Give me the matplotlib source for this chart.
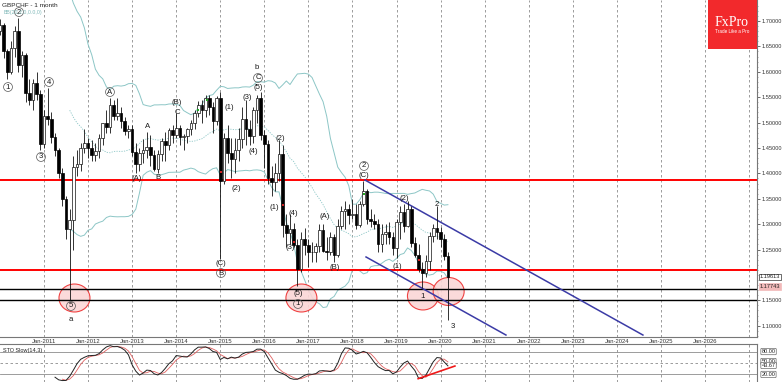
import numpy as np
import pandas as pd
import matplotlib.pyplot as plt
from matplotlib.patches import Ellipse, Rectangle

plt.rcParams['font.family'] = ['Liberation Sans Narrow', 'Liberation Sans', 'DejaVu Sans']

# GBPCHF monthly bars, Jan-2010 .. Mar-2020 (bar index 0 = Jan-2010)
opens = [1.680, 1.692, 1.640, 1.600, 1.647, 1.680, 1.613, 1.633, 1.559, 1.544, 1.577, 1.557,
         1.458, 1.512, 1.508, 1.472, 1.445, 1.401, 1.350, 1.291, 1.309, 1.412, 1.418, 1.450,
         1.459, 1.450, 1.437, 1.444, 1.470, 1.499, 1.491, 1.534, 1.512, 1.518, 1.503, 1.484,
         1.487, 1.443, 1.418, 1.441, 1.446, 1.452, 1.436, 1.408, 1.438, 1.464, 1.456, 1.485,
         1.475, 1.489, 1.472, 1.474, 1.487, 1.500, 1.518, 1.535, 1.525, 1.548, 1.531, 1.504,
         1.549, 1.385, 1.470, 1.441, 1.429, 1.445, 1.467, 1.508, 1.487, 1.474, 1.524, 1.548,
         1.475, 1.458, 1.390, 1.382, 1.401, 1.439, 1.299, 1.282, 1.291, 1.258, 1.211, 1.270,
         1.258, 1.245, 1.246, 1.256, 1.288, 1.248, 1.245, 1.275, 1.239, 1.297, 1.326, 1.329,
         1.318, 1.320, 1.299, 1.339, 1.365, 1.311, 1.307, 1.300, 1.260, 1.280, 1.285, 1.275,
         1.253, 1.305, 1.323, 1.297, 1.329, 1.263, 1.240, 1.211, 1.204, 1.227, 1.276, 1.293,
         1.284, 1.271, 1.238]
highs = [1.703, 1.697, 1.645, 1.660, 1.690, 1.706, 1.640, 1.637, 1.585, 1.585, 1.600, 1.565,
         1.525, 1.568, 1.520, 1.480, 1.450, 1.410, 1.355, 1.330, 1.435, 1.445, 1.460, 1.487,
         1.470, 1.465, 1.460, 1.478, 1.500, 1.525, 1.548, 1.545, 1.548, 1.530, 1.510, 1.495,
         1.495, 1.460, 1.450, 1.468, 1.482, 1.475, 1.445, 1.445, 1.470, 1.482, 1.490, 1.495,
         1.518, 1.495, 1.478, 1.490, 1.505, 1.525, 1.542, 1.545, 1.555, 1.555, 1.540, 1.552,
         1.560, 1.480, 1.495, 1.470, 1.470, 1.490, 1.530, 1.545, 1.505, 1.530, 1.555, 1.560,
         1.485, 1.465, 1.415, 1.420, 1.465, 1.455, 1.320, 1.320, 1.302, 1.270, 1.285, 1.292,
         1.270, 1.265, 1.262, 1.300, 1.300, 1.275, 1.285, 1.280, 1.310, 1.335, 1.345, 1.340,
         1.350, 1.340, 1.345, 1.384, 1.370, 1.330, 1.320, 1.310, 1.300, 1.300, 1.305, 1.285,
         1.310, 1.335, 1.340, 1.345, 1.335, 1.275, 1.260, 1.225, 1.240, 1.285, 1.300, 1.335,
         1.295, 1.280, 1.245]
lows = [1.672, 1.628, 1.585, 1.595, 1.630, 1.600, 1.590, 1.540, 1.535, 1.525, 1.545, 1.445,
        1.450, 1.495, 1.460, 1.435, 1.390, 1.335, 1.270, 1.150, 1.250, 1.395, 1.405, 1.440,
        1.430, 1.425, 1.425, 1.430, 1.455, 1.480, 1.480, 1.505, 1.505, 1.490, 1.475, 1.470,
        1.435, 1.400, 1.405, 1.420, 1.430, 1.415, 1.405, 1.400, 1.425, 1.425, 1.445, 1.460,
        1.470, 1.455, 1.445, 1.460, 1.475, 1.488, 1.510, 1.500, 1.510, 1.515, 1.480, 1.495,
        1.232, 1.380, 1.420, 1.390, 1.400, 1.425, 1.450, 1.455, 1.455, 1.460, 1.500, 1.465,
        1.410, 1.380, 1.355, 1.365, 1.385, 1.275, 1.255, 1.260, 1.255, 1.178, 1.205, 1.240,
        1.215, 1.225, 1.225, 1.245, 1.245, 1.230, 1.240, 1.225, 1.235, 1.290, 1.290, 1.300,
        1.310, 1.290, 1.295, 1.335, 1.300, 1.295, 1.290, 1.245, 1.245, 1.260, 1.260, 1.240,
        1.233, 1.270, 1.285, 1.295, 1.255, 1.235, 1.205, 1.175, 1.195, 1.210, 1.265, 1.270,
        1.255, 1.230, 1.112]
closes = [1.692, 1.640, 1.600, 1.647, 1.680, 1.613, 1.633, 1.559, 1.544, 1.577, 1.557, 1.458,
          1.512, 1.508, 1.472, 1.445, 1.401, 1.350, 1.291, 1.309, 1.412, 1.418, 1.450, 1.459,
          1.450, 1.437, 1.444, 1.470, 1.499, 1.491, 1.534, 1.512, 1.518, 1.503, 1.484, 1.487,
          1.443, 1.418, 1.441, 1.446, 1.452, 1.436, 1.408, 1.438, 1.464, 1.456, 1.485, 1.475,
          1.489, 1.472, 1.474, 1.487, 1.500, 1.518, 1.535, 1.525, 1.548, 1.531, 1.504, 1.549,
          1.385, 1.470, 1.441, 1.429, 1.445, 1.467, 1.508, 1.487, 1.474, 1.524, 1.548, 1.475,
          1.458, 1.390, 1.382, 1.401, 1.439, 1.299, 1.282, 1.291, 1.258, 1.211, 1.270, 1.258,
          1.245, 1.246, 1.256, 1.288, 1.248, 1.245, 1.275, 1.239, 1.297, 1.326, 1.329, 1.318,
          1.320, 1.299, 1.339, 1.365, 1.311, 1.307, 1.300, 1.260, 1.280, 1.285, 1.275, 1.253,
          1.305, 1.323, 1.297, 1.329, 1.263, 1.240, 1.211, 1.204, 1.227, 1.276, 1.293, 1.284,
          1.271, 1.238, 1.196]

years = list(range(2011, 2028))            # January grid lines
year_labels = ['Jan-%d' % y for y in range(2011, 2027)]
price_ticks = [1.10, 1.15, 1.25, 1.30, 1.35, 1.40, 1.45, 1.50, 1.55, 1.60, 1.65, 1.70]

red_levels = [1.3869, 1.2097]
black_levels = [1.1716, 1.1500]
last_price = 1.19613
line_price = 1.17743

# channel lines (bar index, price)
chan_upper = [(99.4, 1.3869), (175.1, 1.0816)]
chan_lower = [(99.7, 1.2353), (137.8, 1.0816)]

# highlighted zones (bar index, price)
zones = [(20.3, 1.1545), (82.1, 1.1545), (115.2, 1.1585), (122.2, 1.1673)]

# wave labels: (bar index, price, text, circled)
waves = [(5.19, 1.7177, '2', True), (2.20, 1.5700, '1', True), (11.18, 1.4322, '3', True),
         (13.36, 1.5799, '4', True), (19.35, 1.1388, '5', True), (19.35, 1.1131, 'a', False),
         (29.97, 1.5602, 'A', True), (40.32, 1.4913, 'A', False), (43.05, 1.3928, 'B', False),
         (37.19, 1.3889, '(A)', False), (48.22, 1.5405, '(B)', False), (48.22, 1.5208, 'C', False),
         (62.38, 1.5306, '(1)', False), (64.29, 1.3711, '(2)', False), (67.28, 1.5503, '(3)', False),
         (68.92, 1.4440, '(4)', False), (70.28, 1.5681, '(5)', False), (70.28, 1.5878, 'C', True),
         (70.01, 1.6094, 'b', False), (60.20, 1.2234, '(C)', False), (60.20, 1.2037, 'B', True),
         (76.27, 1.4696, '(2)', False), (74.64, 1.3337, '(1)', False), (79.81, 1.3219, '(4)', False),
         (78.99, 1.2530, '(3)', False), (81.17, 1.1624, '(5)', False), (81.17, 1.1427, '1', True),
         (88.52, 1.3160, '(A)', False), (91.25, 1.2136, '(B)', False), (99.15, 1.4145, '2', True),
         (99.15, 1.3948, '(C)', False), (110.04, 1.3514, '(2)', False), (108.13, 1.2156, '(1)', False),
         (115.21, 1.1565, '1', False), (119.03, 1.3396, '2', False), (123.39, 1.0974, '3', False)]

green_marks = [(53.9, 1.5247), (56.4, 1.5444), (99.2, 1.3593)]
red_marks = [(60.2, 1.4026), (77.1, 1.3377), (80.1, 1.2648), (114.1, 1.2293)]

stoch_trend = [(113.9, 8.7), (123.9, 42.0)]

o = np.array(opens); h = np.array(highs); l = np.array(lows); c = np.array(closes)
idx = np.arange(len(c))

W, H = 782.0, 382.0
fig = plt.figure(figsize=(W / 100, H / 100), dpi=100)
ax = fig.add_axes([0, 45 / H, 757 / W, 337 / H])
ax2 = fig.add_axes([0, 0, 757 / W, 38 / H])

xlim = (0.017, 206.17)
teal = '#8cc6c6'
grid_kw = dict(color='#8c8c8c', lw=0.6, ls=(0, (3, 3)), zorder=0)

# ---- main price panel
for y in years:
    ax.axvline(12 * (y - 2010), **grid_kw)

close_s = pd.Series(c)
mid = close_s.rolling(20).mean()
sd = close_s.rolling(20).std(ddof=0)
ax.plot(idx, mid + 2 * sd, color=teal, lw=0.7, zorder=1)
ax.plot(idx, mid - 2 * sd, color=teal, lw=0.7, zorder=1)
ax.plot(idx, mid, color=teal, lw=0.6, ls=(0, (1.5, 1.5)), zorder=1)

for z in zones:
    ax.add_patch(Ellipse(z, 8.44, 0.0551, facecolor='#fbd6d6', edgecolor='#ee3030',
                         lw=0.8, alpha=0.9, zorder=1.5))

for p in red_levels:
    ax.axhline(p, color='#ff0000', lw=1.4, zorder=2)
for p in black_levels:
    ax.axhline(p, color='#000000', lw=1.0, zorder=2)

ax.plot(*zip(*chan_upper), color='#3b3ba6', lw=1.1, zorder=2.5)
ax.plot(*zip(*chan_lower), color='#3b3ba6', lw=1.1, zorder=2.5)

up = c >= o
ax.vlines(idx, l, h, color='#111111', lw=0.6, zorder=3)
ax.bar(idx[up], np.maximum(c[up] - o[up], 0.0008), bottom=o[up], width=0.72,
       facecolor='white', edgecolor='#111111', lw=0.5, zorder=4)
ax.bar(idx[~up], np.maximum(o[~up] - c[~up], 0.0008), bottom=c[~up], width=0.72,
       facecolor='black', edgecolor='black', lw=0.5, zorder=4)

ax.scatter(*zip(*green_marks), s=4, marker='s', color='#22aa22', zorder=5, lw=0)
ax.scatter(*zip(*red_marks), s=3, marker='s', color='#cc2222', zorder=5, lw=0)

for m, p, t, circ in waves:
    kw = dict(ha='center', va='center', fontsize=5.6, color='#1a1a1a',
              family=['Liberation Sans', 'DejaVu Sans'], zorder=6)
    if circ:
        kw['bbox'] = dict(boxstyle='circle,pad=0.12', fc='none', ec='#555555', lw=0.5)
    ax.text(m, p, t, **kw)

ax.set_xlim(*xlim)
ax.set_ylim(1.0777, 1.7414)
ax.set_xticks([12 * (y - 2010) for y in range(2011, 2027)])
ax.set_xticklabels(year_labels)
ax.tick_params(axis='x', length=0, pad=1.2, labelsize=4.2, colors='#333333')
ax.yaxis.tick_right()
ax.set_yticks(price_ticks)
ax.set_yticklabels(['%.5f' % p for p in price_ticks])
ax.set_yticks(np.arange(1.08, 1.74, 0.01), minor=True)
ax.tick_params(axis='y', which='major', length=2, width=0.5, pad=1, labelsize=4.1, colors='#333333')
ax.tick_params(axis='y', which='minor', length=1, width=0.4, colors='#666666')
for s in ['left', 'top']:
    ax.spines[s].set_visible(False)
for s in ['right', 'bottom']:
    ax.spines[s].set_color('#777777')
    ax.spines[s].set_linewidth(0.8)

ax.text(1.004, last_price, '%.5f' % last_price, transform=ax.get_yaxis_transform(),
        va='center', ha='left', fontsize=4.1, color='#222222', zorder=7, clip_on=False,
        bbox=dict(boxstyle='square,pad=0.15', fc='white', ec='#333333', lw=0.5))
ax.text(1.004, line_price, '%.5f' % line_price, transform=ax.get_yaxis_transform(),
        va='center', ha='left', fontsize=4.1, color='#222222', zorder=7, clip_on=False,
        bbox=dict(boxstyle='square,pad=0.15', fc='#f2b9b9', ec='#f2b9b9', lw=0.5))

# ---- stochastic panel
hh = pd.Series(h).rolling(14).max()
ll = pd.Series(l).rolling(14).min()
k_slow = 100 * (close_s - ll).rolling(3).sum() / (hh - ll).rolling(3).sum()
d_slow = k_slow.rolling(3).mean()

for y in years:
    ax2.axvline(12 * (y - 2010), **grid_kw)
ax2.axhline(80, color='#8c8c8c', lw=0.6)
ax2.axhline(20, color='#8c8c8c', lw=0.6)
ax2.axhline(50, color='#8c8c8c', lw=0.6, ls=(0, (3, 3)))
ax2.plot(idx, d_slow, color='#e06060', lw=0.6, zorder=3)
ax2.plot(idx, k_slow, color='#222222', lw=0.7, zorder=4)
ax2.plot(*zip(*stoch_trend), color='#f01818', lw=1.2, zorder=5)

ax2.set_xlim(*xlim)
ax2.set_ylim(0, 100)
ax2.set_xticks([]); ax2.set_yticks([])
for s in ['left', 'bottom']:
    ax2.spines[s].set_visible(False)
for s in ['right', 'top']:
    ax2.spines[s].set_color('#777777')
    ax2.spines[s].set_linewidth(0.8)

stoch_tags = [(80, '80.00'), (54, '50.00'), (43.67, '43.67'), (20, '20.00')]
for v, t in stoch_tags:
    ax2.text(1.006, v, t, transform=ax2.get_yaxis_transform(), va='center', ha='left',
             fontsize=4.0, color='#222222', clip_on=False,
             bbox=dict(boxstyle='round,pad=0.12', fc='white', ec='#444444', lw=0.4))
ax2.text(0.004, 82, 'STO Slow(14,3)', transform=ax2.get_yaxis_transform(),
         fontsize=4.0, va='center', color='#222222')

# ---- header text and logo
fig.text(2 / W, 1 - 5.5 / H, 'GBPCHF - 1 month', fontsize=4.6, va='center', color='#222222')
fig.text(4 / W, 1 - 12.5 / H, 'BB(20,2.0,0.0,0)', fontsize=3.8, va='center', color='#7fb8b8')
fig.patches.append(Rectangle((707.5 / W, 1 - 49 / H), 49.5 / W, 49 / H,
                             transform=fig.transFigure, fc='#f2292c', ec='none', zorder=10))
fig.text(732 / W, 1 - 22 / H, 'FxPro', fontsize=10, family=['Liberation Serif', 'DejaVu Serif'],
         ha='center', va='center', color='white', zorder=11)
fig.text(732 / W, 1 - 31.5 / H, 'Trade Like a Pro', fontsize=3.3, ha='center', va='center',
         color='white', zorder=11)

fig.savefig('out.png', dpi=100)
